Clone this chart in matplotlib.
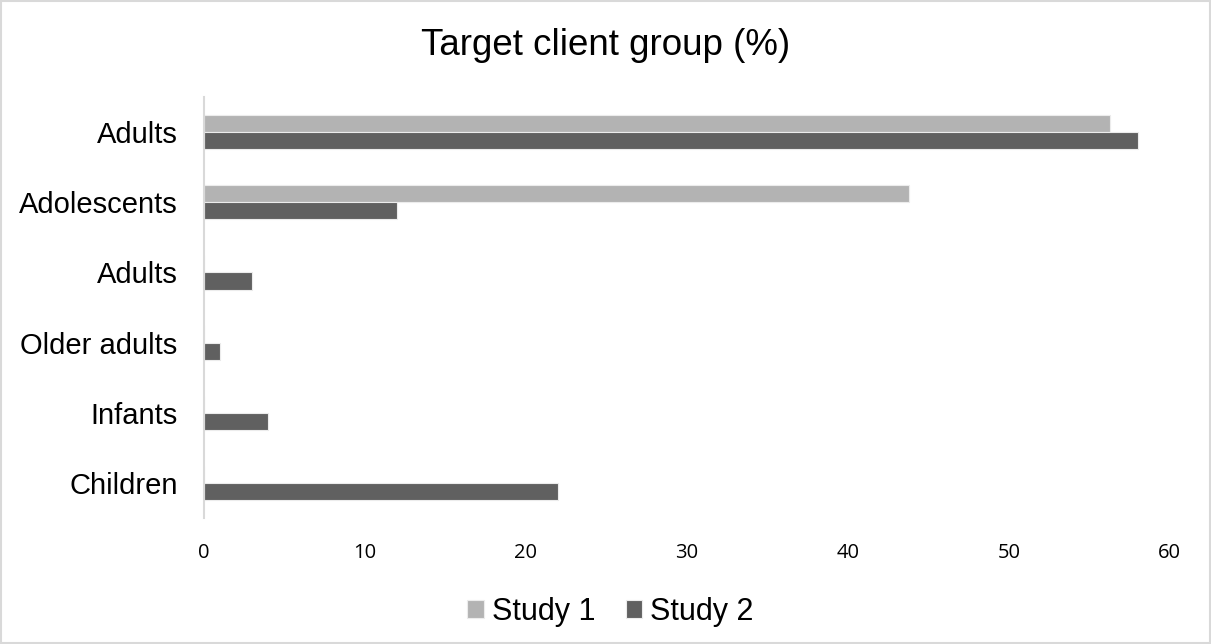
import numpy as np
import matplotlib.pyplot as plt
from matplotlib.patches import Rectangle

# Categories from top to bottom
groups = ['Adults', 'Adolescents', 'Adults', 'Older adults', 'Infants', 'Children']
study_1 = [56.3, 43.8, 0, 0, 0, 0]
study_2 = [58, 12, 3, 1, 4, 22]
x_ticks = [0, 10, 20, 30, 40, 50, 60]

light = '#b3b3b3'
dark = '#606060'

fig = plt.figure(figsize=(12.11, 6.44), dpi=100)
ax = fig.add_axes([0.1685, 0.1957, 0.7975, 0.6537])

pos = np.arange(len(groups))
h = 0.245
ax.barh(pos - h / 2, study_1, height=h, color=light, edgecolor='#ececec', linewidth=0.8, label='Study 1')
ax.barh(pos + h / 2, study_2, height=h, color=dark, edgecolor='#ececec', linewidth=0.8, label='Study 2')

ax.set_ylim(len(groups) - 0.5, -0.5)
ax.set_xlim(0, 60)
ax.set_xticks(x_ticks)
ax.set_yticks(pos)
ax.set_yticklabels(groups, fontfamily='Liberation Sans', fontsize=21)
for lab in ax.get_xticklabels():
    lab.set_fontfamily('Open Sans')
    lab.set_fontsize(14.5)
ax.tick_params(axis='both', length=0)
ax.tick_params(axis='x', pad=18)
ax.tick_params(axis='y', pad=19)

for s in ['top', 'right', 'bottom']:
    ax.spines[s].set_visible(False)
ax.spines['left'].set_color('#d9d9d9')
ax.spines['left'].set_linewidth(1.5)

fig.text(0.5, 0.93, 'Target client group (%)', ha='center', va='center',
         fontfamily='Liberation Sans', fontsize=26.5)

fig.legend(loc='center', bbox_to_anchor=(0.504, 0.05), ncol=2, frameon=False,
           prop={'family': 'Liberation Sans', 'size': 22},
           handlelength=0.55, handleheight=0.55, handletextpad=0.25,
           columnspacing=1.0)

# thin border round the whole figure
fig.patches.append(Rectangle((0.001, 0.001), 0.998, 0.997, transform=fig.transFigure,
                             fill=False, edgecolor='#d9d9d9', linewidth=1.5))

fig.savefig('out.png', dpi=100)
